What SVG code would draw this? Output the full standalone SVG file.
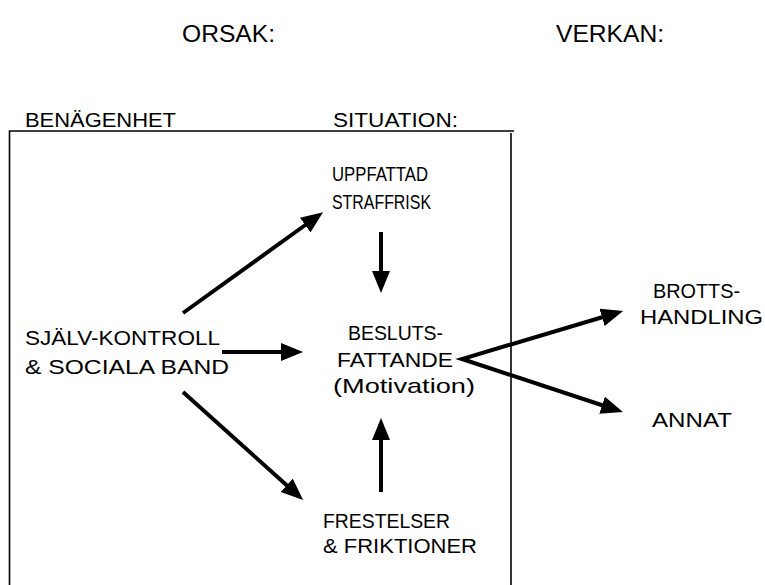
<svg xmlns="http://www.w3.org/2000/svg" width="765" height="585" viewBox="0 0 765 585">
  <style>
    text { font-family: "Liberation Sans", Arial, sans-serif; fill: #000; }
    .head { font-size: 24px; }
    .lbl { font-size: 21px; }
    .frame { stroke: #000; stroke-width: 1.6; fill: none; }
    .arrow { stroke: #000; stroke-width: 4; fill: none; stroke-linejoin: miter; marker-end: url(#head); }
  </style>
  <defs>
    <marker id="head" markerUnits="userSpaceOnUse" markerWidth="24" markerHeight="20" refX="1" refY="9" orient="auto-start-reverse">
      <path d="M0,0 L22,9 L0,18 z" fill="#000"/>
    </marker>
  </defs>
  <rect width="765" height="585" fill="#fff"/>

  <!-- column headings -->
  <text class="head" x="182" y="42" textLength="93" lengthAdjust="spacingAndGlyphs">ORSAK:</text>
  <text class="head" x="556" y="42" textLength="108" lengthAdjust="spacingAndGlyphs">VERKAN:</text>

  <!-- cause frame -->
  <g id="frame">
    <path class="frame" d="M9.5,585 V131 H514"/>
    <path class="frame" d="M511,133 V585"/>
    <text class="lbl" x="25" y="127" textLength="151" lengthAdjust="spacingAndGlyphs">BENÄGENHET</text>
    <text class="lbl" x="333" y="127" textLength="125" lengthAdjust="spacingAndGlyphs">SITUATION:</text>
  </g>

  <g id="sjalvkontroll">
    <text class="lbl" x="25" y="345" textLength="195" lengthAdjust="spacingAndGlyphs">SJÄLV-KONTROLL</text>
    <text class="lbl" x="25" y="374" textLength="204" lengthAdjust="spacingAndGlyphs">&amp; SOCIALA BAND</text>
  </g>

  <g id="straffrisk">
    <text class="lbl" x="332" y="181" textLength="96" lengthAdjust="spacingAndGlyphs">UPPFATTAD</text>
    <text class="lbl" x="332" y="209" textLength="99" lengthAdjust="spacingAndGlyphs">STRAFFRISK</text>
  </g>

  <g id="beslutsfattande">
    <text class="lbl" x="348" y="340" textLength="95" lengthAdjust="spacingAndGlyphs">BESLUTS-</text>
    <text class="lbl" x="337" y="367" textLength="116" lengthAdjust="spacingAndGlyphs">FATTANDE</text>
    <text class="lbl" x="333" y="393" textLength="142" lengthAdjust="spacingAndGlyphs">(Motivation)</text>
  </g>

  <g id="frestelser">
    <text class="lbl" x="323" y="528" textLength="127" lengthAdjust="spacingAndGlyphs">FRESTELSER</text>
    <text class="lbl" x="323" y="553" textLength="154" lengthAdjust="spacingAndGlyphs">&amp; FRIKTIONER</text>
  </g>

  <g id="brottshandling">
    <text class="lbl" x="653" y="298" textLength="87" lengthAdjust="spacingAndGlyphs">BROTTS-</text>
    <text class="lbl" x="640" y="324" textLength="123" lengthAdjust="spacingAndGlyphs">HANDLING</text>
  </g>

  <g id="annat">
    <text class="lbl" x="652" y="427" textLength="80" lengthAdjust="spacingAndGlyphs">ANNAT</text>
  </g>

  <!-- connectors -->
  <g id="connectors">
    <line class="arrow" x1="183" y1="313" x2="306" y2="224.5"/>
    <line class="arrow" x1="381" y1="232" x2="381" y2="272"/>
    <line class="arrow" x1="222" y1="352" x2="282" y2="352"/>
    <line class="arrow" x1="183" y1="392" x2="287.5" y2="486"/>
    <line class="arrow" x1="381" y1="492" x2="381" y2="439"/>
    <polyline class="arrow" style="marker-start: url(#head)" points="603,317 462,359 603,405.5"/>
  </g>
</svg>
